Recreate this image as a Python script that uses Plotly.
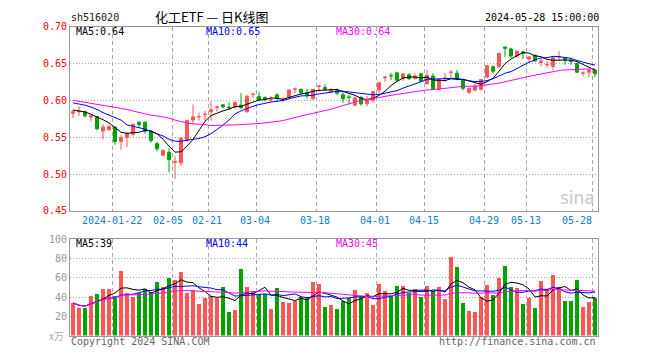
import plotly.graph_objects as go
import pandas as pd

# ---------------- data ----------------
open_ = [0.5825,0.5845,0.5846,0.5772,0.5780,0.5583,0.5600,0.5636,0.5439,0.5496,
         0.5540,0.5702,0.5702,0.5579,0.5412,0.5254,0.5294,0.5158,0.5154,0.5460,
         0.5732,0.5776,0.5807,0.5846,0.5904,0.5939,0.5908,0.5908,0.5934,0.5846,
         0.6079,0.6053,0.6040,0.6005,0.6075,0.6005,0.6040,0.6149,0.6149,0.6110,
         0.6022,0.6190,0.6175,0.6115,0.6140,0.6075,0.6044,0.5934,0.6040,0.5952,
         0.6000,0.6140,0.6306,0.6340,0.6373,0.6294,0.6346,0.6294,0.6360,0.6228,
         0.6329,0.6149,0.6298,0.6377,0.6368,0.6272,0.6110,0.6140,0.6149,0.6316,
         0.6456,0.6456,0.6724,0.6697,0.6601,0.6658,0.6561,0.6610,0.6513,0.6482,
         0.6460,0.6588,0.6579,0.6544,0.6500,0.6366,0.6382,0.6412]
high = [0.5877,0.5920,0.5855,0.5798,0.5790,0.5680,0.5670,0.5650,0.5526,0.5560,
        0.5680,0.5715,0.5715,0.5592,0.5439,0.5330,0.5351,0.5241,0.5504,0.5732,
        0.5943,0.5833,0.5855,0.5987,0.5930,0.5952,0.5974,0.5987,0.6096,0.6075,
        0.6105,0.6118,0.6053,0.6053,0.6096,0.6040,0.6145,0.6175,0.6162,0.6154,
        0.6149,0.6206,0.6215,0.6162,0.6162,0.6110,0.6075,0.6053,0.6061,0.6061,
        0.6118,0.6250,0.6329,0.6368,0.6390,0.6360,0.6368,0.6368,0.6368,0.6412,
        0.6368,0.6294,0.6368,0.6412,0.6412,0.6281,0.6175,0.6228,0.6285,0.6478,
        0.6469,0.6645,0.6724,0.6710,0.6675,0.6675,0.6601,0.6623,0.6566,0.6535,
        0.6588,0.6667,0.6588,0.6557,0.6513,0.6390,0.6425,0.6425]
low = [0.5759,0.5790,0.5768,0.5710,0.5592,0.5469,0.5590,0.5395,0.5329,0.5364,
       0.5513,0.5627,0.5548,0.5425,0.5307,0.5240,0.5022,0.4934,0.5110,0.5439,
       0.5680,0.5724,0.5724,0.5724,0.5846,0.5890,0.5868,0.5877,0.5877,0.5833,
       0.6030,0.5987,0.5987,0.5978,0.5996,0.5974,0.6030,0.6096,0.6075,0.6030,
       0.6009,0.6118,0.6132,0.6096,0.6075,0.5965,0.5943,0.5921,0.5930,0.5921,
       0.5974,0.6096,0.6250,0.6272,0.6259,0.6260,0.6272,0.6285,0.6250,0.6206,
       0.6140,0.6132,0.6250,0.6303,0.6272,0.6132,0.6088,0.6118,0.6132,0.6294,
       0.6368,0.6447,0.6588,0.6579,0.6579,0.6557,0.6513,0.6526,0.6460,0.6447,
       0.6417,0.6535,0.6482,0.6482,0.6368,0.6329,0.6316,0.6316]
close = [0.5846,0.5855,0.5790,0.5790,0.5614,0.5636,0.5645,0.5439,0.5496,0.5548,
         0.5675,0.5671,0.5579,0.5456,0.5342,0.5320,0.5197,0.5167,0.5482,0.5724,
         0.5776,0.5780,0.5811,0.5873,0.5910,0.5912,0.5901,0.5974,0.5899,0.6053,
         0.6083,0.6009,0.6009,0.6013,0.6022,0.6013,0.6140,0.6154,0.6105,0.6075,
         0.6149,0.6193,0.6149,0.6149,0.6096,0.6022,0.6040,0.6031,0.5952,0.5996,
         0.6118,0.6237,0.6316,0.6333,0.6272,0.6360,0.6294,0.6329,0.6259,0.6338,
         0.6154,0.6285,0.6303,0.6382,0.6294,0.6162,0.6162,0.6193,0.6281,0.6469,
         0.6395,0.6636,0.6706,0.6601,0.6667,0.6636,0.6588,0.6535,0.6535,0.6486,
         0.6579,0.6592,0.6548,0.6526,0.6382,0.6370,0.6412,0.6360]
volume = [34,29,29,41,43,48,48,41,67,44,
          40,44,48,45,56,50,60,58,66,44,
          47,33,39,41,39,50,25,27,69,50,
          46,43,43,28,49,35,34,36,40,40,
          56,54,30,32,28,36,39,47,41,44,
          32,54,46,41,52,52,44,48,40,52,
          46,50,38,82,71,34,26,25,40,53,
          42,60,72,50,49,33,39,29,57,48,
          63,51,36,36,58,30,35,39]
ma5_head = [0.5868, 0.5855, 0.5842, 0.5811]
ma10_head = [0.5965, 0.5952, 0.5934, 0.5908, 0.5877, 0.5833, 0.5798, 0.5763, 0.5732]
ma30_head = [0.6000, 0.5987, 0.5974, 0.5956, 0.5943, 0.5930, 0.5921, 0.5908, 0.5890, 0.5877,
             0.5855, 0.5833, 0.5811, 0.5798, 0.5789, 0.5776, 0.5759, 0.5732, 0.5710, 0.5693,
             0.5680, 0.5680, 0.5671, 0.5658, 0.5658, 0.5658, 0.5667, 0.5667, 0.5671]

date_labels = ["2024-01-22", "02-05", "02-21", "03-04", "03-18", "04-01", "04-15", "04-29", "05-13", "05-28"]
date_index = [7, 17, 23, 31, 41, 51, 59, 69, 76, 87]
label_shift = [-3, -7, -4, -4, -4, -4, -3, -3, -3, -18]

price_ticks = [0.45, 0.50, 0.55, 0.60, 0.65, 0.70]
vol_ticks = [20, 40, 60, 80, 100]

title = "化工ETF — 日K线图"
code = "sh516020"
stamp = "2024-05-28 15:00:00"
ma_price_text = ["MA5:0.64", "MA10:0.65", "MA30:0.64"]
ma_vol_text = ["MA5:39", "MA10:44", "MA30:45"]

# ---------------- derived ----------------
n = len(close)
x = list(range(n))
cs = pd.Series(close)
ma5 = cs.rolling(5).mean().tolist()
ma10 = cs.rolling(10).mean().tolist()
ma30 = cs.rolling(30).mean().tolist()
ma5[:len(ma5_head)] = ma5_head
ma10[:len(ma10_head)] = ma10_head
ma30[:len(ma30_head)] = ma30_head
vs = pd.Series(volume, dtype=float)
vma5 = vs.rolling(5, min_periods=1).mean().tolist()
vma10 = vs.rolling(10, min_periods=1).mean().tolist()
vma30 = vs.rolling(30, min_periods=1).mean().tolist()

RED = "#ff5555"
GREEN = "#00a400"
vol_colors = [RED if c >= o else GREEN for o, c in zip(open_, close)]

W, H = 660, 360
def px(v):
    return v / W
def py(v):
    return 1 - v / H

MONO = "DejaVu Sans Mono"
fig = go.Figure()
fig.add_trace(go.Candlestick(
    x=x, open=open_, high=high, low=low, close=close,
    increasing=dict(line=dict(color=RED, width=1), fillcolor=RED),
    decreasing=dict(line=dict(color=GREEN, width=1), fillcolor=GREEN),
    whiskerwidth=0, xaxis="x", yaxis="y", hoverinfo="skip"))
for vals, col in [(ma5, "black"), (ma10, "#0000ff"), (ma30, "#ff00ff")]:
    fig.add_trace(go.Scatter(x=x, y=vals, mode="lines", line=dict(color=col, width=1),
                             xaxis="x", yaxis="y", hoverinfo="skip"))
fig.add_trace(go.Bar(x=x, y=volume, marker=dict(color=vol_colors, line=dict(width=0)),
                     width=0.83, xaxis="x2", yaxis="y2", hoverinfo="skip"))
for vals, col in [(vma5, "black"), (vma10, "#0000ff"), (vma30, "#ff00ff")]:
    fig.add_trace(go.Scatter(x=x, y=vals, mode="lines", line=dict(color=col, width=1),
                             xaxis="x2", yaxis="y2", hoverinfo="skip"))

grid_x = [i - 0.45 for i in date_index]
xcommon = dict(range=[-0.5, n - 0.5], domain=[px(70), px(598)], tickmode="array",
               tickvals=grid_x, showticklabels=False, ticks="", showgrid=True,
               gridcolor="#a8a8a8", griddash="4px,3px", gridwidth=1, showline=True,
               mirror=True, linecolor="#999999", linewidth=1, zeroline=False, fixedrange=True)
fig.update_layout(
    width=W, height=H, margin=dict(l=0, r=0, t=0, b=0),
    paper_bgcolor="white", plot_bgcolor="white", showlegend=False, bargap=0,
    xaxis=dict(**xcommon, anchor="y", rangeslider=dict(visible=False)),
    xaxis2=dict(**xcommon, anchor="y2"),
    yaxis=dict(domain=[py(211.3), py(21.3)], range=[0.45, 0.70], tickmode="array",
               tickvals=price_ticks, ticktext=[f"{v:.2f}" for v in price_ticks],
               tickfont=dict(family=MONO, size=10, color="#ff0000"), ticks="",
               showgrid=True, gridcolor="#a8a8a8", griddash="1px,2px", showline=True,
               mirror=True, linecolor="#999999", linewidth=1, zeroline=False, anchor="x"),
    yaxis2=dict(domain=[py(340), py(240.7)], range=[0, 100], tickmode="array",
                tickvals=vol_ticks, ticktext=[str(v) for v in vol_ticks],
                tickfont=dict(family=MONO, size=10, color="#999999"), ticks="",
                showgrid=True, gridcolor="#a8a8a8", griddash="1px,2px", showline=True,
                mirror=True, linecolor="#999999", linewidth=1, zeroline=False, anchor="x2"),
)

ann = []
def txt(t, xx, yy, color, size=10, family=MONO, xa="left", **kw):
    ann.append(dict(text=t, x=px(xx), y=py(yy), xref="paper", yref="paper", xanchor=xa,
                    yanchor="middle", showarrow=False,
                    font=dict(family=family, size=size, color=color), **kw))

txt(code, 69, 12, "#222222")
txt(title, 211, 11, "#000000", size=13, family="Noto Sans CJK SC", xa="center")
txt(stamp, 601, 12, "#000000", xa="right")
for t, xx, col in zip(ma_price_text, [74, 204, 334], ["black", "#0000ff", "#ff00ff"]):
    txt(t, xx, 26, col)
for t, xx, col in zip(ma_vol_text, [74, 204, 334], ["black", "#0000ff", "#ff00ff"]):
    txt(t, xx, 245.5, col)
txt("x万", 56, 340, "#aaaaaa", size=10, family="Noto Sans CJK SC", xa="center")
txt("Copyright 2024 SINA.COM", 69, 346.5, "#666666")
txt("http://finance.sina.com.cn", 598, 346.5, "#666666", xa="right")
txt("sina", 597, 198, "#c8c8c8", size=17, family="DejaVu Sans", xa="right")
for lab, idx, sh in zip(date_labels, date_index, label_shift):
    ann.append(dict(text=lab, x=idx, y=py(221.7), xref="x", yref="paper", xanchor="center",
                    yanchor="middle", xshift=sh, showarrow=False,
                    font=dict(family=MONO, size=10, color="#0a80d0")))
fig.update_layout(annotations=ann)
fig.write_html("out.html", config={"displayModeBar": False, "staticPlot": True},
               post_script="document.body.style.margin='0';document.body.style.overflow='hidden';")
